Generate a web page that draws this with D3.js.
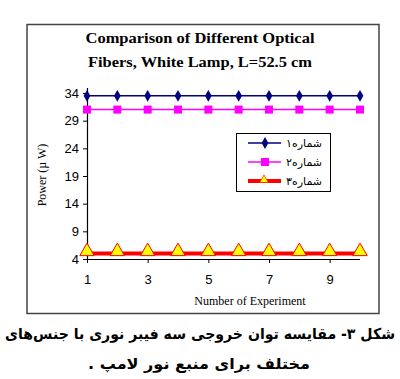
<!DOCTYPE html>
<html><head><meta charset="utf-8">
<script src="https://cdn.jsdelivr.net/npm/d3@7"></script>
<style>body{margin:0;background:#fff}svg{display:block}</style>
</head><body>
<svg id="c" width="400" height="379"></svg>
<script>
const experiments = [1,2,3,4,5,6,7,8,9,10];
const series1 = [33.5,33.5,33.5,33.5,33.5,33.5,33.5,33.5,33.5,33.5];
const series2 = [31,31,31,31,31,31,31,31,31,31];
const series3 = [5,5,5,5,5,5,5,5,5,5];
const seriesNames = ["شماره۱","شماره۲","شماره۳"];
const yTicks = [4,9,14,19,24,29,34];
const xTicks = [1,3,5,7,9];
const titleLines = ["Comparison of Different Optical","Fibers, White Lamp, L=52.5 cm"];
const captionLines = ["شکل ۳- مقایسه توان خروجی سه فیبر نوری با جنس‌های","مختلف برای منبع نور لامپ ."];

const svg = d3.select("#c");
svg.append("rect").attr("x",27).attr("y",24.5).attr("width",352).attr("height",289)
  .attr("fill","#fff").attr("stroke","#444").attr("stroke-width",1.5);

const x = d3.scaleLinear().domain([1,10]).range([87,360]);
const y = d3.scaleLinear().domain([4,34]).range([259,93]);

// title
svg.selectAll(".title").data(titleLines).join("text")
  .attr("x",200).attr("y",(d,i)=>43+i*24).attr("text-anchor","middle")
  .attr("font-family","Liberation Serif").attr("font-weight","bold").attr("font-size",15)
  .attr("textLength",(d,i)=>i===0?229:224).attr("lengthAdjust","spacingAndGlyphs")
  .text(d=>d);

// axes
const yAxis = svg.append("g").attr("transform","translate(87,0)")
  .call(d3.axisLeft(y).tickValues(yTicks).tickSize(4).tickPadding(4));
const xAxis = svg.append("g").attr("transform","translate(0,259)")
  .call(d3.axisBottom(x).tickValues(xTicks).tickSize(4).tickPadding(12));
[yAxis,xAxis].forEach(g=>{
  g.select(".domain").attr("stroke","#000").attr("stroke-width",1.2);
  g.selectAll(".tick line").attr("stroke","#000");
  g.selectAll("text").attr("font-family","Liberation Sans").attr("font-size",13).attr("fill","#000");
});
xAxis.select(".domain").attr("d","M87,0.5H360");
yAxis.select(".domain").attr("d","M0.5,259V88");

svg.append("text").attr("x",250).attr("y",305).attr("text-anchor","middle")
  .attr("font-family","Liberation Serif").attr("font-size",12).text("Number of Experiment");
svg.append("text").attr("transform","translate(46,175) rotate(-90)").attr("text-anchor","middle")
  .attr("font-family","Liberation Serif").attr("font-size",12).text("Power (µ W)");

const line = d3.line().x((d,i)=>x(experiments[i])).y(d=>y(d));

// series 3
svg.append("path").datum(series3).attr("d",line).attr("fill","none").attr("stroke","#ff0000").attr("stroke-width",4);
const tri = d3.symbol().type(d3.symbolTriangle).size(90);
svg.selectAll(".m3").data(series3).join("path")
  .attr("transform",(d,i)=>`translate(${x(experiments[i])},${y(d)-2})`).attr("d",tri)
  .attr("fill","#ffff00").attr("stroke","#ff0000").attr("stroke-width",1);

// series 2
svg.append("path").datum(series2).attr("d",line).attr("fill","none").attr("stroke","#ff00ff").attr("stroke-width",1.5);
svg.selectAll(".m2").data(series2).join("rect")
  .attr("x",(d,i)=>x(experiments[i])-4).attr("y",d=>y(d)-4).attr("width",8).attr("height",8)
  .attr("fill","#ff00ff");

// series 1
svg.append("path").datum(series1).attr("d",line).attr("fill","none").attr("stroke","#000080").attr("stroke-width",1.5);
const dia = d3.symbol().type(d3.symbolDiamond).size(40);
svg.selectAll(".m1").data(series1).join("path")
  .attr("transform",(d,i)=>`translate(${x(experiments[i])},${y(d)})`).attr("d",dia)
  .attr("fill","#000080");

// legend
const lg = svg.append("g");
lg.append("rect").attr("x",236.5).attr("y",133.5).attr("width",94).attr("height",58)
  .attr("fill","#fff").attr("stroke","#000").attr("stroke-width",1);
const ly = [143,162,181];
const styles = [
  {c:"#000080",w:1.5},{c:"#ff00ff",w:1.5},{c:"#ff0000",w:4}
];
seriesNames.forEach((n,i)=>{
  lg.append("line").attr("x1",248).attr("x2",281).attr("y1",ly[i]).attr("y2",ly[i])
    .attr("stroke",styles[i].c).attr("stroke-width",styles[i].w);
  if(i===0) lg.append("path").attr("transform",`translate(265,${ly[i]})`).attr("d",dia).attr("fill","#000080");
  if(i===1) lg.append("rect").attr("x",261).attr("y",ly[i]-4).attr("width",8).attr("height",8).attr("fill","#ff00ff");
  if(i===2) lg.append("path").attr("transform",`translate(264,${ly[i]-1}) scale(0.6)`).attr("d",tri).attr("fill","#ffff00").attr("stroke","#ff0000");
  lg.append("text").attr("x",322).attr("y",ly[i]+4).attr("text-anchor","end")
    .attr("font-family","DejaVu Sans").attr("font-size",11).text(n);
});

// caption
svg.selectAll(".cap").data(captionLines).join("text")
  .attr("x",(d,i)=>i===0?200:199).attr("y",(d,i)=>339+i*30).attr("text-anchor","middle")
  .attr("direction","rtl")
  .attr("font-family","DejaVu Sans").attr("font-weight","bold").attr("font-size",15)
  .attr("textLength",(d,i)=>i===0?390:222).attr("lengthAdjust","spacingAndGlyphs")
  .text(d=>d);
</script>
</body></html>
